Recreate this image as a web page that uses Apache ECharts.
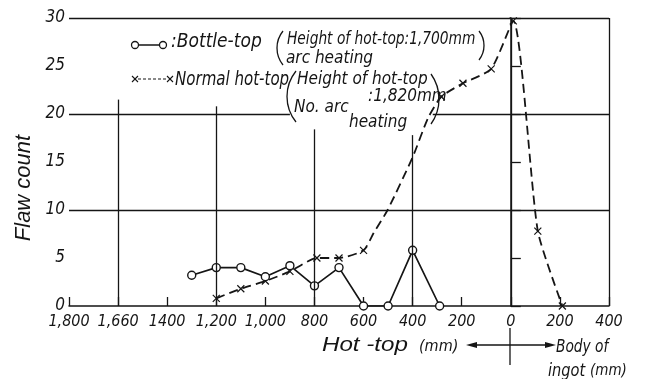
<!DOCTYPE html>
<html><head><meta charset="utf-8">
<script src="https://cdn.jsdelivr.net/npm/echarts@6/dist/echarts.min.js"></script>
<style>html,body{margin:0;background:#fff}#c{width:647px;height:379px}</style>
</head><body><div id="c"></div>
<script>
// x = distance in mm: positive = into the hot-top, negative = into the body of ingot
const xTickLabels = ['1,800','1,660','1400','1,200','1,000','800','600','400','200','0','200','400']; // left to right
const yTickLabels = ['0','5','10','15','20','25','30'];

// Bottle-top (Height of hot-top 1,700 mm, arc heating)
const bottleX = [1300, 1200, 1100, 1000, 900, 800, 700, 600, 500, 400, 290];
const bottleY = [3.2, 4.0, 4.0, 3.05, 4.2, 2.1, 4.0, 0, 0, 5.8, 0];

// Normal hot-top (Height of hot-top 1,820 mm, no arc heating); marked = 1 where a cross is drawn
const normalX = [1200, 1100, 1000, 900, 790, 700, 600, 559, 502, 400, 337, 283, 195, 80, -10, -110, -210];
const normalY = [0.8, 1.8, 2.6, 3.6, 5.0, 5.0, 5.8, 7.6, 10.0, 15.5, 19.6, 21.8, 23.2, 24.7, 29.7, 7.8, 0];
const normalMarked = [1, 1, 1, 1, 1, 1, 1, 0, 0, 0, 0, 1, 1, 1, 1, 1, 1];

// grid line segments (data coordinates)
const gridSegments = [
  [[1800, 30], [-400, 30]],
  [[-400, 0], [-400, 30]],
  [[0, 0], [0, 30]],
  [[1600, 0], [1600, 21.5]],
  [[1200, 0], [1200, 20.8]],
  [[800, 0], [800, 18.4]],
  [[400, 0], [400, 17.8]],
  [[1800, 20], [900, 20]],
  [[318, 20], [-400, 20]],
  [[1800, 10], [-400, 10]]
];

const INK = '#151515';
const NARROW = "'Liberation Sans Narrow','DejaVu Sans Condensed',sans-serif";
const WIDE = "'Liberation Sans','DejaVu Sans',sans-serif";
const crossPath = 'path://M0,0L10,10M10,0L0,10';

function txt(x, y, text, size, opts) {
  opts = opts || {};
  return {
    type: 'text', x: x, y: y, rotation: opts.rotation || 0, silent: true,
    scaleX: opts.sx || 1, scaleY: opts.sy || 1,
    style: {
      text: text, fill: INK,
      font: 'italic ' + size + 'px ' + (opts.family || NARROW),
      textAlign: opts.align || 'left', textVerticalAlign: 'middle'
    }
  };
}
function seg(x1, y1, x2, y2, w, dash) {
  const st = {stroke: INK, lineWidth: w || 1.2};
  if (dash) st.lineDash = dash;
  return {type: 'line', silent: true, shape: {x1: x1, y1: y1, x2: x2, y2: y2}, style: st};
}
// bracket drawn as a circular arc: bulge at xEdge, from yTop to yBot, depth d
function paren(xEdge, yTop, yBot, d, kind) {
  const h = yBot - yTop;
  const r = (h * h / 4 + d * d) / (2 * d);
  const half = Math.asin((h / 2) / r);
  const cy = (yTop + yBot) / 2;
  const isOpen = kind === '(';
  return {
    type: 'arc', silent: true,
    shape: {
      cx: isOpen ? xEdge + r : xEdge - r, cy: cy, r: r,
      startAngle: isOpen ? Math.PI - half : -half,
      endAngle: isOpen ? Math.PI + half : half, clockwise: true
    },
    style: {stroke: INK, lineWidth: 1.3, fill: 'none'}
  };
}

const chart = echarts.init(document.getElementById('c'), null, {renderer: 'canvas'});
chart.setOption({
  backgroundColor: '#fff',
  animation: false,
  grid: {left: 69, right: 38, top: 18, bottom: 73},
  xAxis: {
    type: 'value', inverse: true, min: -400, max: 1800, interval: 200,
    axisLine: {show: true, lineStyle: {color: INK, width: 1.5}},
    axisTick: {show: true, inside: true, length: 9, lineStyle: {color: INK, width: 1.3}},
    splitLine: {show: false},
    axisLabel: {
      margin: 8, color: INK, fontStyle: 'italic', fontFamily: NARROW, fontSize: 16,
      formatter: function (v) { return xTickLabels[Math.round((1800 - v) / 200)]; }
    }
  },
  yAxis: {
    type: 'value', min: 0, max: 30, interval: 5,
    axisLine: {show: true, lineStyle: {color: INK, width: 1.5}},
    axisTick: {show: true, inside: true, length: 10, lineStyle: {color: INK, width: 1.3}},
    splitLine: {show: false},
    axisLabel: {
      margin: 4, color: INK, fontStyle: 'italic', fontFamily: NARROW, fontSize: 17,
      formatter: function (v) { return yTickLabels[Math.round(v / 5)]; }
    }
  },
  series: [
    {
      type: 'line', name: 'grid', data: [], silent: true,
      markLine: {
        silent: true, symbol: ['none', 'none'], label: {show: false},
        lineStyle: {color: INK, width: 1.3, type: 'solid'},
        emphasis: {disabled: true},
        data: gridSegments.map(function (s) { return [{coord: s[0]}, {coord: s[1]}]; })
      }
    },
    {
      type: 'line', name: 'Normal hot-top',
      data: normalX.map(function (x, i) {
        return normalMarked[i] ? [x, normalY[i]] : {value: [x, normalY[i]], symbol: 'none'};
      }),
      smooth: 0.2,
      symbol: crossPath, symbolSize: 7,
      itemStyle: {color: 'none', borderColor: INK, borderWidth: 1.2},
      lineStyle: {color: INK, width: 1.8, type: [9, 5]},
      z: 3
    },
    {
      type: 'line', name: 'Bottle-top',
      data: bottleX.map(function (x, i) { return [x, bottleY[i]]; }),
      symbol: 'circle', symbolSize: 8,
      itemStyle: {color: '#fff', borderColor: INK, borderWidth: 1.4},
      lineStyle: {color: INK, width: 1.7},
      z: 4
    }
  ],
  graphic: [
    // legend line 1
    seg(135, 45, 163, 45, 1.5),
    {type: 'circle', silent: true, shape: {cx: 135, cy: 45, r: 3.5}, style: {fill: '#fff', stroke: INK, lineWidth: 1.3}},
    {type: 'circle', silent: true, shape: {cx: 163, cy: 45, r: 3.5}, style: {fill: '#fff', stroke: INK, lineWidth: 1.3}},
    txt(171, 42, ':Bottle-top', 19),
    paren(277, 31, 65, 6, '('),
    txt(287, 40, 'Height of hot-top:1,700mm', 17, {sx: 0.9}),
    paren(484, 31, 60, 5, ')'),
    txt(286, 59, 'arc heating', 17),
    // legend line 2
    seg(138, 79, 167, 79, 1.2, [3, 2]),
    seg(132, 76, 138, 82, 1.1), seg(138, 76, 132, 82, 1.1),
    seg(167, 76, 173, 82, 1.1), seg(173, 76, 167, 82, 1.1),
    txt(175, 80, 'Normal hot-top', 19, {sx: 0.88}),
    paren(287, 71, 122, 9, '('),
    txt(297, 80, 'Height of hot-top', 17),
    paren(439, 74, 124, 8, ')'),
    txt(368, 97, ':1,820mm', 17),
    txt(294, 108, 'No. arc', 17),
    txt(349, 123, 'heating', 17),
    // axis titles
    txt(24, 188, 'Flaw count', 22, {rotation: Math.PI / 2, align: 'center', family: WIDE}),
    txt(322, 345, 'Hot -top', 21, {family: WIDE, sx: 1.15}),
    txt(419, 347, '(mm)', 16),
    // arrow
    seg(470, 345, 552, 345, 1.3),
    {type: 'polygon', silent: true, shape: {points: [[466, 345], [477, 342], [477, 348]]}, style: {fill: INK}},
    {type: 'polygon', silent: true, shape: {points: [[556, 345], [545, 342], [545, 348]]}, style: {fill: INK}},
    seg(510, 328, 510, 365, 1.3),
    txt(556, 347, 'Body of', 18, {sx: 0.85}),
    txt(548, 371, 'ingot', 18, {sx: 0.9}),
    txt(590, 371, '(mm)', 15)
  ]
});
</script>
</body></html>
